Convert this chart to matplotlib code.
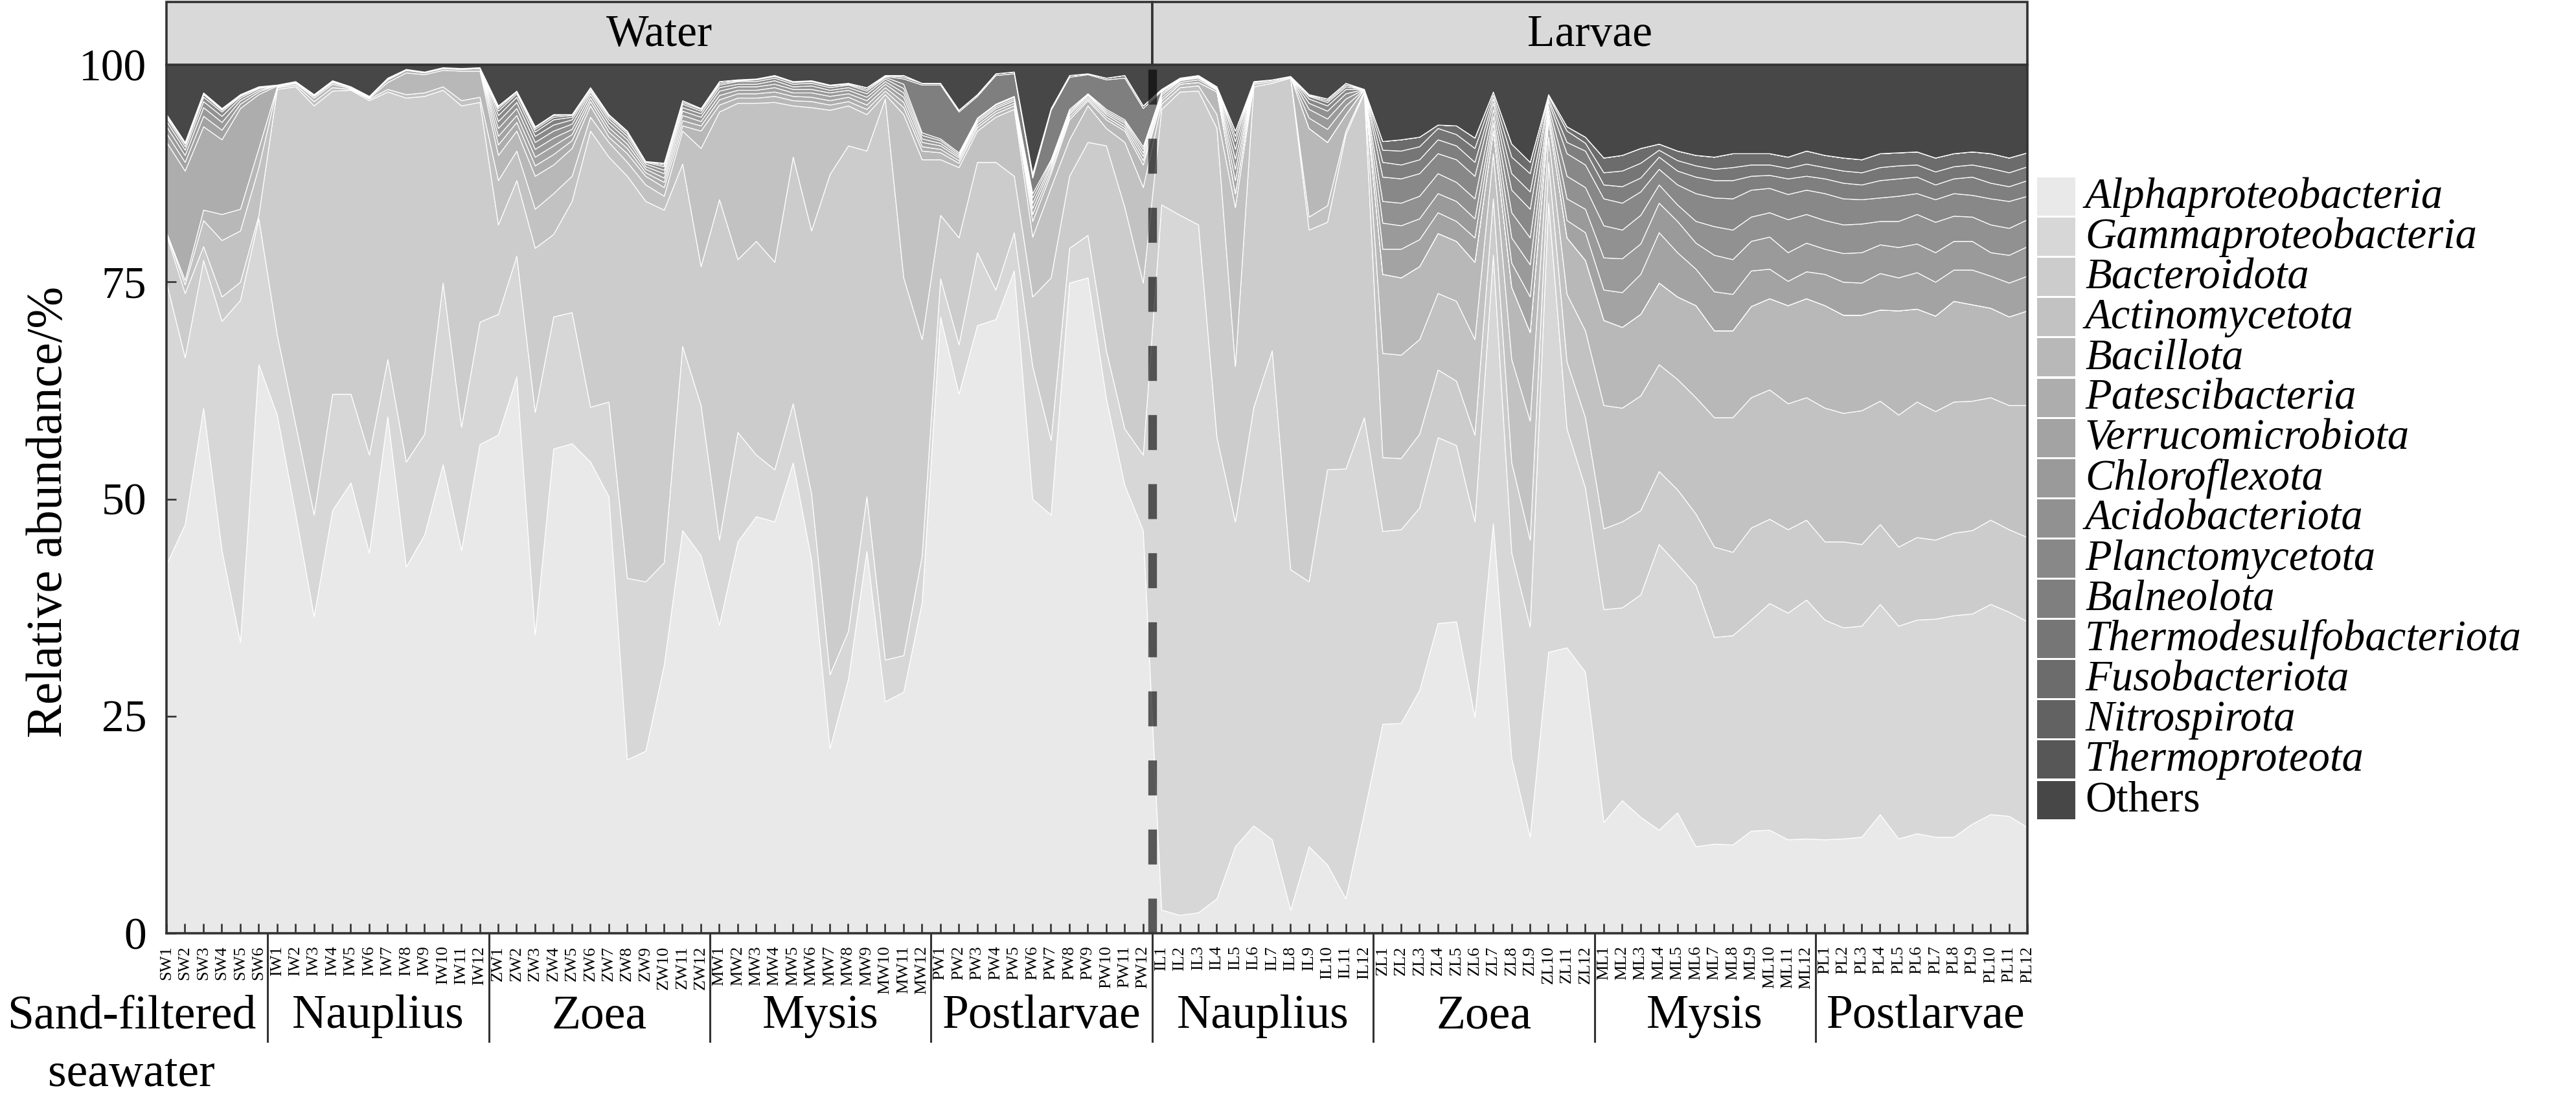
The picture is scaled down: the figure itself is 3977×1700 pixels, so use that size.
import numpy as np
import matplotlib
matplotlib.use("Agg")
import matplotlib.pyplot as plt
from matplotlib.patches import Rectangle
from matplotlib.transforms import blended_transform_factory

plt.rcParams['font.family'] = ['Liberation Serif', 'DejaVu Serif']

# sample groups (prefix, count) and the stage label under each group
groups = [('SW', 6), ('IW', 12), ('ZW', 12), ('MW', 12), ('PW', 12),
          ('IL', 12), ('ZL', 12), ('ML', 12), ('PL', 12)]
stages = ['Sand-filtered\nseawater', 'Nauplius', 'Zoea', 'Mysis', 'Postlarvae',
          'Nauplius', 'Zoea', 'Mysis', 'Postlarvae']
samples = [p + str(k) for p, n in groups for k in range(1, n + 1)]

phyla = ['Alphaproteobacteria', 'Gammaproteobacteria', 'Bacteroidota', 'Actinomycetota',
         'Bacillota', 'Patescibacteria', 'Verrucomicrobiota', 'Chloroflexota',
         'Acidobacteriota', 'Planctomycetota', 'Balneolota', 'Thermodesulfobacteriota',
         'Fusobacteriota', 'Nitrospirota', 'Thermoproteota', 'Others']

# relative abundance (%) per sample, order: SW | IW | ZW | MW | PW | IL | ZL | ML | PL
alpha = [42.5, 47.1, 60.5, 44.1, 33.5, 65.5,
         59.7, 48.3, 36.5, 48.7, 51.9, 43.8, 59.5, 42.2, 45.9, 54.0, 44.1, 56.3,
         57.4, 64.1, 34.4, 55.8, 56.4, 54.3, 50.3, 20.0, 21.0, 30.9, 46.4, 43.5,
         35.5, 45.1, 48.0, 47.4, 54.2, 43.0, 21.3, 29.3, 44.0, 26.7, 27.8, 38.1,
         71.0, 62.1, 70.0, 70.7, 76.3, 50.0, 48.2, 74.9, 75.5, 61.6, 51.6, 46.4,
         2.7, 2.1, 2.4, 4.0, 10.0, 12.4, 10.8, 2.7, 10.0, 7.9, 4.0, 13.9,
         24.1, 24.2, 28.0, 35.7, 35.9, 24.9, 47.2, 20.2, 11.1, 32.4, 32.9, 30.1,
         12.8, 15.3, 13.4, 11.9, 13.9, 10.0, 10.3, 10.2, 11.8, 11.9, 10.8, 10.9,
         10.8, 10.9, 11.1, 13.7, 10.9, 11.5, 11.1, 11.1, 12.6, 13.7, 13.5, 12.2]
gamma = [32.4, 19.2, 17.0, 26.4, 39.4, 16.8,
         9.2, 10.3, 11.7, 13.4, 10.2, 11.3, 6.6, 12.1, 11.6, 20.9, 14.2, 14.1,
         13.9, 13.9, 25.6, 15.2, 15.1, 6.3, 10.9, 20.9, 19.5, 11.8, 21.2, 17.3,
         9.8, 12.6, 7.1, 6.0, 6.8, 7.6, 8.5, 5.5, 6.3, 4.8, 4.2, 5.4,
         4.4, 5.7, 8.4, 3.4, 4.4, 15.3, 8.6, 4.0, 4.9, 5.5, 6.5, 8.7,
         81.2, 80.6, 79.2, 53.1, 37.4, 48.2, 56.3, 39.2, 30.5, 45.5, 49.5, 45.5,
         22.2, 22.3, 21.0, 21.4, 20.3, 22.5, 30.9, 23.6, 24.2, 51.7, 25.2, 21.2,
         24.5, 22.2, 25.6, 32.9, 28.6, 30.1, 23.8, 24.1, 24.3, 26.1, 26.1, 27.5,
         25.3, 24.3, 24.3, 24.2, 24.5, 24.6, 25.1, 25.5, 24.2, 24.2, 23.5, 23.7]
bacteroidota = [5.5, 7.4, 1.6, 2.8, 2.1, 0.4,
                28.3, 38.9, 47.1, 34.9, 35.0, 40.8, 30.8, 41.9, 38.9, 22.2, 37.0, 25.3,
                10.3, 8.7, 18.9, 9.5, 12.8, 31.8, 28.2, 46.3, 43.8, 40.6, 21.0, 16.0,
                39.2, 19.9, 24.6, 23.9, 28.4, 30.3, 57.6, 55.9, 39.8, 64.6, 43.5, 24.9,
                7.3, 12.3, 10.4, 14.7, 6.5, 8.0, 18.7, 8.3, 10.7, 23.6, 25.5, 19.8,
                11.0, 14.2, 15.4, 35.6, 17.9, 36.9, 30.8, 56.6, 40.5, 28.5, 38.5, 37.4,
                8.5, 8.2, 8.5, 7.8, 7.4, 10.0, 6.5, 10.4, 10.0, 4.7, 7.7, 8.1,
                9.3, 9.9, 9.7, 8.4, 8.6, 8.2, 10.4, 9.6, 10.6, 9.7, 9.6, 9.2,
                9.0, 9.9, 9.4, 9.2, 9.1, 9.5, 9.1, 9.5, 9.6, 9.7, 9.5, 9.7]
actinomycetota = [0.2, 1.0, 3.0, 6.5, 5.9, 5.5,
                  0.2, 0.2, 0.5, 0.4, 0.1, 0.2, 0.3, 0.4, 0.4, 0.4, 0.6, 0.6,
                  5.1, 3.4, 4.5, 4.7, 2.9, 1.6, 1.7, 1.6, 1.9, 1.6, 3.8, 13.6,
                  10.1, 18.0, 15.9, 18.4, 5.9, 14.2, 7.4, 4.6, 4.2, 0.5, 18.8, 20.7,
                  6.4, 8.1, 3.6, 5.2, 7.7, 6.9, 10.4, 4.2, 4.2, 2.0, 7.5, 11.0,
                  0.6, 0.5, 0.6, 1.6, 18.3, 0.3, 0.2, 0.1, 1.5, 1.9, 0.4, 0.2,
                  12.0, 11.9, 10.9, 8.8, 9.2, 11.0, 5.2, 11.9, 13.7, 2.9, 7.8, 10.0,
                  14.2, 13.1, 13.2, 12.3, 12.7, 13.4, 14.9, 15.5, 15.0, 14.9, 14.5, 14.1,
                  15.4, 14.8, 15.4, 14.2, 15.2, 15.6, 14.8, 15.1, 14.9, 14.1, 14.3, 15.2]
bacillota = [0.1, 0.5, 1.2, 3.0, 2.5, 2.2,
             0.1, 0.2, 0.4, 0.4, 0.1, 0.1, 0.8, 2.5, 2.1, 1.9, 3.4, 3.0,
             2.9, 2.3, 3.8, 3.3, 3.2, 1.3, 0.6, 1.0, 1.0, 1.0, 0.6, 2.0,
             0.8, 0.6, 0.6, 0.7, 0.6, 0.7, 0.6, 0.5, 0.6, 0.4, 0.8, 1.0,
             0.8, 0.5, 0.4, 0.4, 0.4, 1.8, 1.6, 2.3, 0.6, 1.0, 1.3, 2.6,
             0.4, 0.4, 0.4, 2.6, 1.6, 0.2, 0.2, 0.1, 10.2, 7.3, 1.9, 0.2,
             9.1, 8.9, 8.4, 6.9, 6.9, 8.9, 2.6, 8.3, 10.2, 2.0, 6.5, 8.1,
             9.8, 9.3, 9.4, 9.4, 9.5, 10.6, 10.0, 10.0, 10.5, 10.5, 11.3, 11.4,
             11.8, 11.3, 11.0, 10.5, 12.0, 10.7, 11.0, 11.6, 11.1, 10.3, 10.2, 10.9]
patescibacteria = [10.4, 12.6, 9.6, 8.6, 11.6, 6.2,
                   0.1, 0.1, 0.2, 0.2, 0.1, 0.1, 0.3, 0.3, 0.2, 0.2, 0.2, 0.3,
                   1.2, 1.0, 1.2, 1.2, 0.9, 0.5, 0.6, 0.6, 0.4, 0.6, 0.6, 0.6,
                   0.6, 0.5, 0.5, 0.5, 0.5, 0.5, 0.5, 0.5, 0.5, 0.4, 0.6, 0.5,
                   0.4, 0.3, 0.3, 0.3, 0.3, 0.8, 0.4, 0.3, 0.2, 0.3, 0.3, 0.5,
                   0.0, 0.0, 0.0, 0.0, 0.0, 0.0, 0.0, 0.0, 0.0, 0.0, 0.0, 0.0,
                   0.0, 0.0, 0.0, 0.0, 0.0, 0.0, 0.0, 0.0, 0.0, 0.0, 0.0, 0.0,
                   0.0, 0.0, 0.0, 0.0, 0.0, 0.0, 0.0, 0.0, 0.0, 0.0, 0.0, 0.0,
                   0.0, 0.0, 0.0, 0.0, 0.0, 0.0, 0.0, 0.0, 0.0, 0.0, 0.0, 0.0]
verrucomicrobiota = [1.0, 1.0, 1.2, 1.1, 0.5, 0.3,
                     0.1, 0.1, 0.1, 0.1, 0.1, 0.1, 0.1, 0.1, 0.1, 0.1, 0.1, 0.1,
                     1.0, 0.8, 1.0, 1.0, 0.7, 0.4, 0.5, 0.5, 0.4, 0.5, 0.6, 0.5,
                     0.5, 0.4, 0.4, 0.5, 0.4, 0.5, 0.5, 0.4, 0.5, 0.4, 0.6, 0.5,
                     0.4, 0.3, 0.3, 0.3, 0.3, 0.7, 0.4, 0.3, 0.2, 0.3, 0.3, 0.5,
                     0.3, 0.2, 0.3, 0.2, 1.5, 0.1, 0.0, 0.0, 1.2, 1.5, 1.0, 0.0,
                     2.9, 3.3, 3.1, 2.4, 2.3, 2.8, 0.9, 2.8, 4.1, 0.6, 2.0, 3.2,
                     3.5, 4.0, 4.6, 5.8, 5.1, 4.2, 4.5, 4.2, 4.1, 3.4, 2.8, 3.1,
                     3.6, 3.8, 3.7, 4.2, 3.8, 4.2, 3.9, 3.6, 4.0, 3.7, 3.9, 4.0]
chloroflexota = [0.8, 0.8, 1.0, 0.9, 0.4, 0.2,
                 0.0, 0.0, 0.1, 0.1, 0.0, 0.0, 0.1, 0.0, 0.0, 0.0, 0.0, 0.0,
                 0.9, 0.8, 0.9, 0.9, 0.6, 0.4, 0.5, 0.5, 0.3, 0.5, 0.5, 0.5,
                 0.5, 0.4, 0.4, 0.4, 0.4, 0.4, 0.4, 0.4, 0.4, 0.3, 0.5, 0.4,
                 0.3, 0.2, 0.2, 0.2, 0.2, 0.6, 0.3, 0.2, 0.2, 0.2, 0.3, 0.4,
                 0.3, 0.2, 0.2, 0.1, 1.3, 0.0, 0.0, 0.0, 1.0, 1.2, 0.8, 0.0,
                 3.0, 2.7, 2.4, 2.2, 2.3, 2.2, 0.8, 2.9, 3.7, 0.5, 2.5, 2.7,
                 3.7, 3.9, 3.5, 3.4, 3.6, 3.0, 4.2, 4.0, 3.4, 3.7, 3.3, 3.3,
                 2.9, 3.3, 3.5, 3.3, 3.5, 3.3, 3.4, 3.3, 3.3, 2.7, 3.2, 3.4]
acidobacteriota = [0.6, 0.6, 0.7, 0.7, 0.3, 0.2,
                   0.0, 0.0, 0.0, 0.0, 0.0, 0.0, 0.0, 0.0, 0.0, 0.0, 0.0, 0.0,
                   0.8, 0.7, 0.8, 0.8, 0.6, 0.3, 0.4, 0.4, 0.3, 0.4, 0.4, 0.4,
                   0.4, 0.3, 0.3, 0.4, 0.3, 0.4, 0.3, 0.3, 0.4, 0.3, 0.5, 0.4,
                   0.3, 0.2, 0.2, 0.2, 0.2, 0.6, 0.3, 0.2, 0.1, 0.2, 0.2, 0.4,
                   0.2, 0.1, 0.1, 0.1, 1.2, 0.0, 0.0, 0.0, 0.7, 0.9, 0.6, 0.0,
                   2.5, 2.6, 2.6, 2.3, 2.2, 2.3, 0.8, 2.9, 3.1, 0.5, 2.6, 2.5,
                   3.7, 3.3, 3.3, 2.1, 1.9, 2.5, 3.3, 3.4, 2.8, 2.8, 3.8, 3.3,
                   3.3, 3.3, 3.3, 2.7, 3.0, 3.4, 3.5, 2.9, 2.8, 3.2, 3.1, 3.1]
planctomycetota = [0.4, 0.4, 0.5, 0.5, 0.2, 0.1,
                   0.0, 0.0, 0.0, 0.0, 0.0, 0.0, 0.0, 0.0, 0.0, 0.0, 0.0, 0.0,
                   0.7, 0.6, 0.7, 0.7, 0.5, 0.2, 0.3, 0.3, 0.2, 0.4, 0.4, 0.3,
                   0.3, 0.3, 0.3, 0.3, 0.3, 0.3, 0.3, 0.3, 0.3, 0.2, 0.5, 0.3,
                   0.2, 0.2, 0.1, 0.1, 0.1, 0.5, 0.2, 0.2, 0.1, 0.2, 0.2, 0.3,
                   0.2, 0.1, 0.1, 0.1, 1.1, 0.0, 0.0, 0.0, 0.5, 0.6, 0.5, 0.0,
                   2.8, 2.8, 2.6, 2.3, 2.6, 2.6, 0.7, 2.6, 3.3, 0.5, 2.6, 2.6,
                   3.1, 3.1, 2.7, 1.8, 2.3, 3.2, 3.3, 3.6, 3.1, 2.8, 2.9, 2.8,
                   3.1, 3.0, 2.8, 2.7, 2.9, 2.4, 2.6, 2.6, 2.5, 3.0, 3.1, 2.7]
balneolota = [0.2, 0.3, 0.3, 0.2, 0.1, 0.1,
              0.0, 0.0, 0.0, 0.0, 0.0, 0.0, 0.0, 0.0, 0.0, 0.0, 0.0, 0.0,
              0.5, 0.4, 0.5, 0.6, 0.3, 0.2, 0.2, 0.2, 0.1, 0.2, 0.2, 0.2,
              0.2, 0.1, 0.2, 0.2, 0.2, 0.2, 0.2, 0.1, 0.2, 0.1, 0.6, 5.5,
              6.2, 4.7, 2.5, 3.3, 2.6, 1.8, 5.7, 3.7, 2.2, 3.4, 4.8, 4.4,
              0.1, 0.1, 0.1, 0.1, 0.9, 0.0, 0.0, 0.0, 0.3, 0.4, 0.3, 0.0,
              1.7, 1.6, 1.6, 1.6, 1.6, 1.6, 0.5, 1.9, 2.0, 0.3, 1.3, 1.6,
              1.6, 1.9, 1.6, 1.4, 1.6, 1.9, 2.0, 2.1, 1.6, 1.5, 1.8, 1.6,
              1.7, 1.8, 1.7, 2.0, 2.0, 1.9, 1.7, 1.7, 2.1, 1.8, 1.7, 1.8]
thermodesulfobacteriota = [0.1, 0.1, 0.1, 0.1, 0.1, 0.0,
                           0.0, 0.0, 0.0, 0.0, 0.0, 0.0, 0.0, 0.0, 0.0, 0.0, 0.0, 0.0,
                           0.3, 0.2, 0.3, 0.3, 0.2, 0.1, 0.1, 0.1, 0.0, 0.2, 0.2, 0.1,
                           0.2, 0.1, 0.1, 0.1, 0.1, 0.1, 0.1, 0.1, 0.2, 0.1, 0.2, 0.2,
                           0.2, 0.2, 0.2, 0.2, 0.2, 0.3, 0.2, 0.2, 0.1, 0.2, 0.3, 0.3,
                           0.1, 0.0, 0.0, 0.0, 0.6, 0.0, 0.0, 0.0, 0.1, 0.2, 0.2, 0.0,
                           1.4, 1.6, 1.5, 1.3, 1.3, 1.6, 0.4, 1.9, 2.1, 0.3, 1.3, 0.9,
                           1.4, 1.8, 1.7, 0.8, 1.2, 1.3, 1.3, 1.5, 1.3, 1.2, 1.2, 1.4,
                           1.3, 1.4, 1.4, 1.5, 1.5, 1.4, 1.5, 1.4, 1.4, 1.7, 1.6, 1.6]
fusobacteriota = [0.1, 0.1, 0.1, 0.1, 0.0, 0.0,
                  0.0, 0.0, 0.0, 0.0, 0.0, 0.0, 0.0, 0.0, 0.0, 0.0, 0.0, 0.0,
                  0.2, 0.1, 0.2, 0.2, 0.1, 0.0, 0.0, 0.0, 0.0, 0.0, 0.0, 0.0,
                  0.0, 0.0, 0.0, 0.0, 0.0, 0.0, 0.0, 0.0, 0.0, 0.0, 0.2, 0.0,
                  0.0, 0.0, 0.0, 0.0, 0.0, 0.2, 0.0, 0.0, 0.0, 0.0, 0.0, 0.0,
                  0.1, 0.0, 0.0, 0.0, 0.6, 0.0, 0.0, 0.0, 0.1, 0.2, 0.2, 0.0,
                  1.0, 1.3, 1.1, 0.4, 1.0, 1.2, 0.4, 1.5, 1.3, 0.2, 0.5, 0.7,
                  1.7, 1.8, 1.7, 0.7, 1.1, 1.2, 1.4, 1.6, 1.3, 1.3, 1.3, 1.5,
                  1.4, 1.5, 1.5, 1.6, 1.5, 1.5, 1.6, 1.5, 1.5, 1.7, 1.7, 1.6]
nitrospirota = [0.0] * 18 + [0.1, 0.0, 0.1, 0.1] + [0.0] * 80
thermoproteota = [0.0] * 102

layers = [alpha, gamma, bacteroidota, actinomycetota, bacillota, patescibacteria,
          verrucomicrobiota, chloroflexota, acidobacteriota, planctomycetota,
          balneolota, thermodesulfobacteriota, fusobacteriota, nitrospirota,
          thermoproteota]
data = np.array(layers)
others = np.clip(100 - data.sum(axis=0), 0, None)
data = np.vstack([data, others])

colors = ['#e9e9e9', '#d7d7d7', '#cccccc', '#c2c2c2', '#b8b8b8', '#adadad',
          '#a3a3a3', '#9a9a9a', '#919191', '#888888', '#7f7f7f', '#767676',
          '#6c6c6c', '#626262', '#575757', '#474747']

W, H = 3977, 1700
def fx(px):
    return px / W
def fy(py):
    return 1 - py / H

fig = plt.figure(figsize=(W / 100, H / 100), dpi=100)
ax = fig.add_axes([fx(257), fy(1441), fx(3130) - fx(257), fy(100) - fy(1441)])

x = np.arange(len(samples))
ax.stackplot(x, data, colors=colors, edgecolor='white', linewidth=0.9)
ax.set_facecolor('#e9e9e9')
ax.set_xlim(0, len(samples) - 1)
ax.set_ylim(0, 100)

n_water = 54
ax.plot([n_water - 0.5] * 2, [0, 100], color='black', alpha=0.62, lw=9.6,
        dashes=(4.05, 3.95), dash_capstyle='butt', zorder=5)

ax.set_xticks(x)
ax.set_xticklabels(samples, rotation=90, fontsize=19)
ax.set_yticks([0, 25, 50, 75, 100])
ax.tick_params(axis='x', direction='in', length=11, width=1.9, color='#333333', pad=14)
ax.tick_params(axis='y', direction='in', length=11, width=1.9, color='#333333',
               pad=22, labelsize=50)
for s in ax.spines.values():
    s.set_color('#333333')
    s.set_linewidth(2.6)
    s.set_zorder(6)

# stage labels and dividers under the axis
tr = blended_transform_factory(ax.transData, ax.transAxes)
start = 0
for (p, n), lab in zip(groups, stages):
    if start > 0:
        ax.plot([start - 0.5] * 2, [0, -0.1245], transform=tr, color='#333333',
                lw=2.2, clip_on=False)
    if p == 'SW':
        l1, l2 = lab.split('\n')
        ax.text(-1.9, -0.1089, l1, transform=tr, ha='center', va='baseline',
                fontsize=53)
        ax.text(-1.9, -0.176, l2, transform=tr, ha='center', va='baseline',
                fontsize=53)
    else:
        ax.text(start + (n - 1) / 2, -0.1089, lab, transform=tr, ha='center',
                va='baseline', fontsize=53)
    start += n

# strip on top
sax = fig.add_axes([fx(257), fy(100), fx(3130) - fx(257), fy(3) - fy(100)])
sax.set_xlim(0, len(samples) - 1)
sax.set_ylim(0, 1)
sax.axis('off')
sax.add_patch(Rectangle((0, 0), n_water - 0.5, 1, facecolor='#d9d9d9',
                        edgecolor='#333333', lw=2.6, clip_on=False))
sax.add_patch(Rectangle((n_water - 0.5, 0), len(samples) - n_water - 0.5, 1,
                        facecolor='#d9d9d9', edgecolor='#333333', lw=2.6, clip_on=False))
sax.text((n_water - 0.5) / 2, 0.47, 'Water', ha='center', va='center', fontsize=50)
sax.text((n_water - 0.5 + len(samples) - 1) / 2, 0.47, 'Larvae', ha='center',
         va='center', fontsize=50)

fig.text(fx(76), fy(790), 'Relative abundance/%', rotation=90, ha='center',
         va='center', fontsize=56)

# legend drawn by hand
row = 62.1
for k, (name, c) in enumerate(zip(phyla, colors)):
    top = 274 + k * row
    fig.add_artist(Rectangle((fx(3145), fy(top + 59)), fx(59), 59 / H,
                             transform=fig.transFigure, facecolor=c, edgecolor='none'))
    fig.text(fx(3219), fy(top + 47), name, ha='left', va='baseline', fontsize=48,
             style='normal' if name == 'Others' else 'italic')

fig.savefig('out.png', dpi=100)
